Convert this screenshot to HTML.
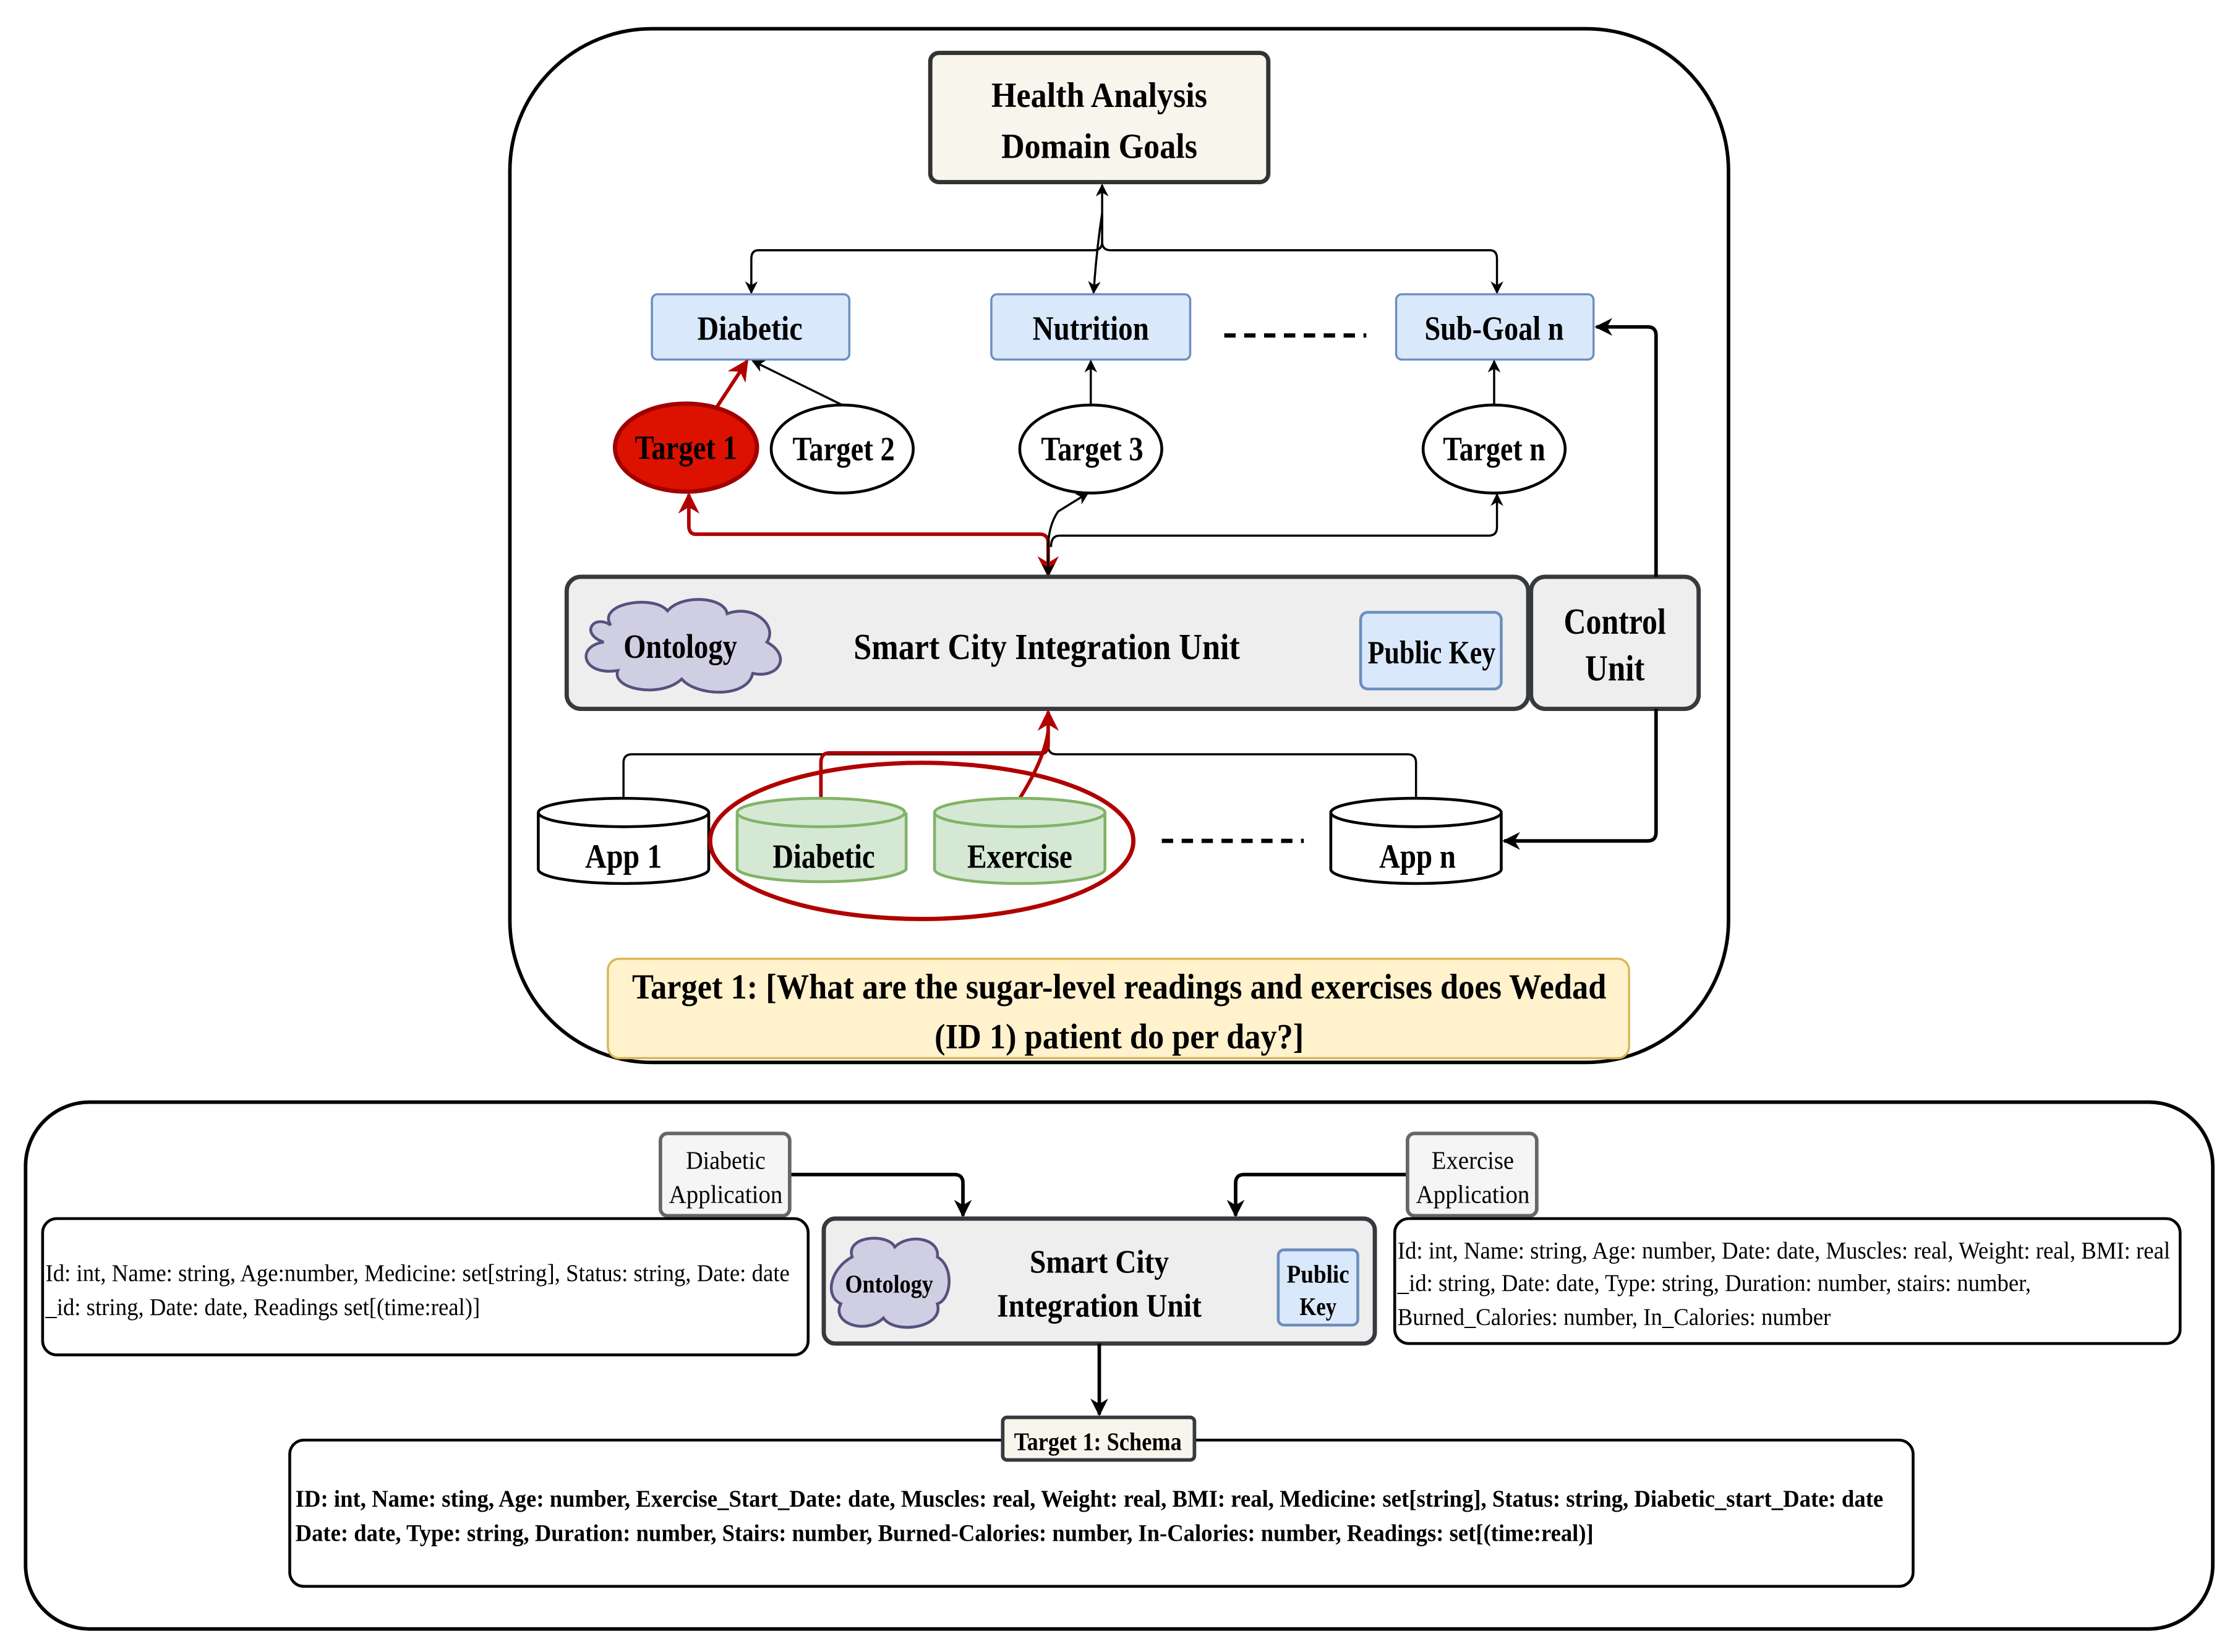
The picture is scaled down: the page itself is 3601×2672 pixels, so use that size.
<!DOCTYPE html>
<html><head><meta charset="utf-8"><style>
html,body{margin:0;padding:0;background:#fff;}
svg{display:block;}
text{font-family:"Liberation Serif",serif;font-weight:bold;fill:#000;}
.n{font-weight:normal;}
</style></head><body>
<svg width="3601" height="2672" viewBox="0 0 1568 1163" xmlns="http://www.w3.org/2000/svg">
<defs>
<marker id="a" viewBox="0 0 10 10" refX="9" refY="5" markerWidth="6" markerHeight="6" orient="auto-start-reverse"><path d="M0,0 L10,5 L0,10 L3,5z" fill="#000"/></marker>
<marker id="r" viewBox="0 0 10 10" refX="9" refY="5" markerWidth="6" markerHeight="6" orient="auto-start-reverse"><path d="M0,0 L10,5 L0,10 L3,5z" fill="#b00000"/></marker>
<marker id="b" viewBox="0 0 10 10" refX="9" refY="5" markerWidth="5" markerHeight="5" orient="auto"><path d="M0,0 L10,5 L0,10 L3,5z" fill="#000"/></marker>
</defs>
<rect x="359" y="20" width="858" height="728" rx="100" fill="#fff" stroke="#000" stroke-width="2.5"/>
<rect x="655" y="37" width="238" height="91" rx="6" fill="#f7f5ec" stroke="#333" stroke-width="3"/>
<text x="774" y="75" font-size="25" text-anchor="middle" textLength="152" lengthAdjust="spacingAndGlyphs">Health Analysis</text>
<text x="774" y="111" font-size="25" text-anchor="middle" textLength="138" lengthAdjust="spacingAndGlyphs">Domain Goals</text>
<path d="M776,130 L776,170 Q776,176 770,176 L534,176 Q529,176 529,182 L529,206" fill="none" stroke="#000" stroke-width="1.5" marker-start="url(#a)" marker-end="url(#a)"/>
<path d="M776,150 L776,170 Q776,176 782,176 L1049,176 Q1054,176 1054,182 L1054,206" fill="none" stroke="#000" stroke-width="1.5" marker-end="url(#a)"/>
<path d="M776,150 Q772,176 770,206" fill="none" stroke="#000" stroke-width="1.5" marker-end="url(#a)"/>
<rect x="459" y="207" width="139" height="46" rx="4" fill="#dae8fc" stroke="#6c8ebf" stroke-width="1.5"/>
<text x="528" y="239" font-size="24" text-anchor="middle" textLength="74" lengthAdjust="spacingAndGlyphs">Diabetic</text>
<rect x="698" y="207" width="140" height="46" rx="4" fill="#dae8fc" stroke="#6c8ebf" stroke-width="1.5"/>
<text x="768" y="239" font-size="24" text-anchor="middle" textLength="82" lengthAdjust="spacingAndGlyphs">Nutrition</text>
<rect x="983" y="207" width="139" height="46" rx="4" fill="#dae8fc" stroke="#6c8ebf" stroke-width="1.5"/>
<text x="1052" y="239" font-size="24" text-anchor="middle" textLength="98" lengthAdjust="spacingAndGlyphs">Sub-Goal n</text>
<line x1="862" y1="236" x2="962" y2="236" stroke="#000" stroke-width="3" stroke-dasharray="8,6"/>
<line x1="505" y1="286" x2="526" y2="254" stroke="#b00000" stroke-width="2.5" marker-end="url(#r)"/>
<line x1="593" y1="285" x2="530" y2="254" stroke="#000" stroke-width="1.5" marker-end="url(#a)"/>
<line x1="768" y1="285" x2="768" y2="254" stroke="#000" stroke-width="1.5" marker-end="url(#a)"/>
<line x1="1052" y1="285" x2="1052" y2="254" stroke="#000" stroke-width="1.5" marker-end="url(#a)"/>
<ellipse cx="483" cy="315" rx="50" ry="31" fill="#dd1100" stroke="#a00000" stroke-width="3"/>
<text x="483" y="323" font-size="24" text-anchor="middle" textLength="72" lengthAdjust="spacingAndGlyphs">Target 1</text>
<ellipse cx="593" cy="316" rx="50" ry="31" fill="#fff" stroke="#000" stroke-width="2"/>
<text x="594" y="324" font-size="24" text-anchor="middle" textLength="72" lengthAdjust="spacingAndGlyphs">Target 2</text>
<ellipse cx="768" cy="316" rx="50" ry="31" fill="#fff" stroke="#000" stroke-width="2"/>
<text x="769" y="324" font-size="24" text-anchor="middle" textLength="72" lengthAdjust="spacingAndGlyphs">Target 3</text>
<ellipse cx="1052" cy="316" rx="50" ry="31" fill="#fff" stroke="#000" stroke-width="2"/>
<text x="1052" y="324" font-size="24" text-anchor="middle" textLength="72" lengthAdjust="spacingAndGlyphs">Target n</text>
<path d="M738,405 L738,382 Q738,376 732,376 L490,376 Q485,376 485,370 L485,348" fill="none" stroke="#b00000" stroke-width="2.5" marker-start="url(#r)" marker-end="url(#r)"/>
<path d="M738,405 L738,386 Q738,370 745,360 L766,347" fill="none" stroke="#000" stroke-width="1.5" marker-start="url(#a)" marker-end="url(#a)"/>
<path d="M740,385 Q740,377 746,377 L1048,377 Q1054,377 1054,371 L1054,348" fill="none" stroke="#000" stroke-width="1.5" marker-end="url(#a)"/>
<rect x="399" y="406" width="677" height="93" rx="10" fill="#eeeeee" stroke="#36393d" stroke-width="3"/>
<path d="M430,440 C420,425 460,418 470,430 C480,418 510,420 512,432 C530,425 548,440 540,452 C558,462 548,478 530,474 C526,492 490,490 480,478 C465,492 430,485 435,472 C410,476 405,455 425,452 C408,446 418,432 430,440z" fill="#d0cee2" stroke="#56517e" stroke-width="2"/>
<text x="479" y="463" font-size="24" text-anchor="middle" textLength="80" lengthAdjust="spacingAndGlyphs">Ontology</text>
<text x="737" y="464" font-size="26" text-anchor="middle" textLength="272" lengthAdjust="spacingAndGlyphs">Smart City Integration Unit</text>
<rect x="958" y="431" width="99" height="54" rx="5" fill="#dae8fc" stroke="#6c8ebf" stroke-width="2"/>
<text x="1008" y="467" font-size="23" text-anchor="middle" textLength="90" lengthAdjust="spacingAndGlyphs">Public Key</text>
<rect x="1078" y="406" width="118" height="93" rx="10" fill="#eeeeee" stroke="#36393d" stroke-width="3"/>
<text x="1137" y="446" font-size="26" text-anchor="middle" textLength="72" lengthAdjust="spacingAndGlyphs">Control</text>
<text x="1137" y="479" font-size="26" text-anchor="middle" textLength="42" lengthAdjust="spacingAndGlyphs">Unit</text>
<path d="M1166,406 L1166,236 Q1166,230 1160,230 L1124,230" fill="none" stroke="#000" stroke-width="2.5" marker-end="url(#b)"/>
<path d="M1166,499 L1166,586 Q1166,592 1160,592 L1059,592" fill="none" stroke="#000" stroke-width="2.5" marker-end="url(#b)"/>
<path d="M439,562 L439,537 Q439,531 445,531 L732,531 Q738,531 738,525 L738,501" fill="none" stroke="#000" stroke-width="1.5" marker-end="url(#a)"/>
<path d="M997,562 L997,537 Q997,531 991,531 L744,531 Q738,531 738,525" fill="none" stroke="#000" stroke-width="1.5"/>
<path d="M578,562 L578,537 Q578,530 584,530 L732,530 Q738,530 738,524 L738,501" fill="none" stroke="#b00000" stroke-width="2.5" marker-end="url(#r)"/>
<path d="M718,562 Q735,535 738,515" fill="none" stroke="#b00000" stroke-width="2.5"/>
<g stroke-width="2">
<path d="M379,572 L379,612 A60,10 0 0 0 499,612 L499,572" fill="#fff" stroke="#000"/>
<ellipse cx="439" cy="572" rx="60" ry="10" fill="#fff" stroke="#000"/>
<path d="M519,572 L519,612 A60,10 0 0 0 638,612 L638,572" fill="#d5e8d4" stroke="#82b366"/>
<ellipse cx="578" cy="572" rx="59" ry="10" fill="#d5e8d4" stroke="#82b366"/>
<path d="M658,572 L658,612 A60,10 0 0 0 778,612 L778,572" fill="#d5e8d4" stroke="#82b366"/>
<ellipse cx="718" cy="572" rx="60" ry="10" fill="#d5e8d4" stroke="#82b366"/>
<path d="M937,572 L937,612 A60,10 0 0 0 1057,612 L1057,572" fill="#fff" stroke="#000"/>
<ellipse cx="997" cy="572" rx="60" ry="10" fill="#fff" stroke="#000"/>
</g>
<text x="439" y="611" font-size="24" text-anchor="middle" textLength="54" lengthAdjust="spacingAndGlyphs">App 1</text>
<text x="580" y="611" font-size="24" text-anchor="middle" textLength="72" lengthAdjust="spacingAndGlyphs">Diabetic</text>
<text x="718" y="611" font-size="24" text-anchor="middle" textLength="74" lengthAdjust="spacingAndGlyphs">Exercise</text>
<text x="998" y="611" font-size="24" text-anchor="middle" textLength="54" lengthAdjust="spacingAndGlyphs">App n</text>
<ellipse cx="649" cy="592" rx="149" ry="55" fill="none" stroke="#b00000" stroke-width="3"/>
<line x1="818" y1="592" x2="918" y2="592" stroke="#000" stroke-width="3" stroke-dasharray="8,6"/>
<rect x="428" y="675" width="719" height="70" rx="8" fill="#fff2cc" stroke="#d6b656" stroke-width="1.5"/>
<text x="788" y="703" font-size="25" text-anchor="middle" textLength="686" lengthAdjust="spacingAndGlyphs">Target 1: [What are the sugar-level readings and exercises does Wedad</text>
<text x="788" y="738" font-size="25" text-anchor="middle" textLength="260" lengthAdjust="spacingAndGlyphs">(ID 1) patient do per day?]</text>

<rect x="18" y="776" width="1540" height="371" rx="45" fill="#fff" stroke="#000" stroke-width="2.5"/>
<path d="M556,827 L672,827 Q678,827 678,833 L678,856" fill="none" stroke="#000" stroke-width="2.5" marker-end="url(#b)"/>
<path d="M991,827 L876,827 Q870,827 870,833 L870,856" fill="none" stroke="#000" stroke-width="2.5" marker-end="url(#b)"/>
<rect x="465" y="798" width="91" height="58" rx="5" fill="#f5f5f5" stroke="#666" stroke-width="2.5"/>
<text x="511" y="823" font-size="18" text-anchor="middle" textLength="56" lengthAdjust="spacingAndGlyphs" class="n">Diabetic</text>
<text x="511" y="847" font-size="18" text-anchor="middle" textLength="80" lengthAdjust="spacingAndGlyphs" class="n">Application</text>
<rect x="991" y="798" width="91" height="58" rx="5" fill="#f5f5f5" stroke="#666" stroke-width="2.5"/>
<text x="1037" y="823" font-size="18" text-anchor="middle" textLength="58" lengthAdjust="spacingAndGlyphs" class="n">Exercise</text>
<text x="1037" y="847" font-size="18" text-anchor="middle" textLength="80" lengthAdjust="spacingAndGlyphs" class="n">Application</text>
<rect x="30" y="858" width="539" height="96" rx="10" fill="#fff" stroke="#000" stroke-width="2"/>
<text x="32" y="902" font-size="17" class="n" textLength="524" lengthAdjust="spacingAndGlyphs">Id: int, Name: string, Age:number, Medicine: set[string], Status: string, Date: date</text>
<text x="32" y="926" font-size="17" class="n" textLength="306" lengthAdjust="spacingAndGlyphs">_id: string, Date: date, Readings set[(time:real)]</text>
<rect x="982" y="858" width="553" height="88" rx="10" fill="#fff" stroke="#000" stroke-width="2"/>
<text x="984" y="886" font-size="17" class="n" textLength="544" lengthAdjust="spacingAndGlyphs">Id: int, Name: string, Age: number, Date: date, Muscles: real, Weight: real, BMI: real</text>
<text x="984" y="909" font-size="17" class="n" textLength="446" lengthAdjust="spacingAndGlyphs">_id: string, Date: date, Type: string, Duration: number, stairs: number,</text>
<text x="984" y="933" font-size="17" class="n" textLength="305" lengthAdjust="spacingAndGlyphs">Burned_Calories: number, In_Calories: number</text>
<rect x="580" y="858" width="388" height="88" rx="8" fill="#eeeeee" stroke="#36393d" stroke-width="3"/>
<path d="M600,885 C595,870 625,868 630,878 C640,868 662,872 660,885 C672,892 670,915 660,918 C665,935 630,940 622,928 C610,940 585,932 592,918 C580,912 585,893 600,885z" fill="#d0cee2" stroke="#56517e" stroke-width="2"/>
<text x="626" y="910" font-size="18" text-anchor="middle" textLength="62" lengthAdjust="spacingAndGlyphs">Ontology</text>
<text x="774" y="896" font-size="23" text-anchor="middle" textLength="98" lengthAdjust="spacingAndGlyphs">Smart City</text>
<text x="774" y="927" font-size="23" text-anchor="middle" textLength="144" lengthAdjust="spacingAndGlyphs">Integration Unit</text>
<rect x="900" y="880" width="56" height="53" rx="4" fill="#dae8fc" stroke="#6c8ebf" stroke-width="2"/>
<text x="928" y="903" font-size="18" text-anchor="middle" textLength="44" lengthAdjust="spacingAndGlyphs">Public</text>
<text x="928" y="926" font-size="18" text-anchor="middle" textLength="26" lengthAdjust="spacingAndGlyphs">Key</text>
<line x1="774" y1="946" x2="774" y2="996" stroke="#000" stroke-width="2.5" marker-end="url(#b)"/>
<rect x="204" y="1014" width="1143" height="103" rx="10" fill="#fff" stroke="#000" stroke-width="2"/>
<text x="208" y="1061" font-size="17" textLength="1118" lengthAdjust="spacingAndGlyphs">ID: int, Name: sting, Age: number, Exercise_Start_Date: date, Muscles: real, Weight: real, BMI: real, Medicine: set[string], Status: string, Diabetic_start_Date: date</text>
<text x="208" y="1085" font-size="17" textLength="914" lengthAdjust="spacingAndGlyphs">Date: date, Type: string, Duration: number, Stairs: number, Burned-Calories: number, In-Calories: number, Readings: set[(time:real)]</text>
<rect x="706" y="998" width="135" height="30" rx="3" fill="#f7f5ec" stroke="#36393d" stroke-width="2.5"/>
<text x="773" y="1021" font-size="18" text-anchor="middle" textLength="118" lengthAdjust="spacingAndGlyphs">Target 1: Schema</text>
</svg>
</body></html>
